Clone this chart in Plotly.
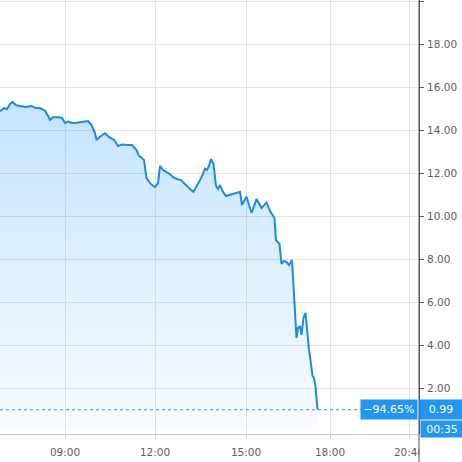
import plotly.graph_objects as go

# Bar index (session-compressed time axis, like TradingView) and close prices
bars = [0, 8, 14, 20, 25, 32, 40, 52, 63, 72, 80, 90, 97, 100, 106, 116, 124, 130, 136, 144,
        154, 164, 176, 183, 190, 193, 200, 210, 220, 226, 230, 236, 244, 256, 264, 273, 278, 282, 288, 293,
        300, 306, 310, 316, 320, 326, 332, 340, 346, 354, 362, 370, 377, 382, 387, 394, 400, 406, 410, 414,
        418, 422, 427, 432, 436, 440, 446, 452, 460, 470, 480, 484, 493, 503, 513, 523, 533, 540, 549, 552,
        559, 563, 568, 573, 578, 584, 587, 590, 593, 596, 600, 603, 607, 611, 615, 618, 621, 625, 628, 631, 635]
prices = [14.88, 15.02, 14.98, 15.21, 15.30, 15.16, 15.12, 15.07, 15.12, 15.02, 15.02, 14.90, 14.62, 14.47, 14.60, 14.60, 14.56, 14.33, 14.39, 14.33,
          14.34, 14.37, 14.42, 14.23, 13.86, 13.53, 13.69, 13.85, 13.63, 13.58, 13.49, 13.26, 13.33, 13.30, 13.30, 13.07, 12.79, 12.74, 12.60, 11.77,
          11.53, 11.40, 11.35, 11.52, 12.33, 12.14, 12.05, 11.95, 11.81, 11.72, 11.67, 11.49, 11.29, 11.21, 11.13, 11.40, 11.67, 11.95, 12.21, 12.14,
          12.33, 12.65, 12.42, 11.40, 11.26, 11.44, 11.12, 10.93, 10.98, 11.07, 11.13, 10.51, 10.90, 10.14, 10.79, 10.37, 10.63, 10.23, 9.91, 8.88,
          8.70, 7.77, 7.91, 7.86, 7.72, 7.95, 6.56, 5.16, 4.33, 4.79, 4.88, 4.47, 5.26, 5.49, 4.39, 3.77, 3.30, 2.56, 2.47, 2.05, 0.99]

x_tick_bars = [130, 310, 492, 660, 818]
x_tick_labels = ["09:00", "12:00", "15:00", "18:00", "20:40"]
y_tick_values = [2, 4, 6, 8, 10, 12, 14, 16, 18, 20]
y_tick_labels = ["2.00", "4.00", "6.00", "8.00", "10.00", "12.00", "14.00", "16.00", "18.00", ""]

last_price = 0.99
change_text = "\u221294.65%"
time_left = "00:35"

BLUE = "#2196F3"
LINE = "#1c8ae0"
GRID = "#e3e6ea"
FONT = "DejaVu Sans"

fig = go.Figure()
fig.add_trace(go.Scatter(
    x=bars, y=prices, mode="lines",
    line=dict(color=LINE, width=2),
    fill="tozeroy",
    fillgradient=dict(type="vertical",
                      colorscale=[[0, "rgba(33,150,243,0.03)"], [1, "rgba(33,150,243,0.26)"]],
                      start=0, stop=15.3),
    hoverinfo="skip", showlegend=False,
))

fig.update_layout(
    width=462, height=462,
    margin=dict(l=0, r=43, t=0, b=28),
    paper_bgcolor="white", plot_bgcolor="white",
    font=dict(family=FONT, size=10.5, color="#5d5d5d"),
    xaxis=dict(range=[0, 838], tickvals=x_tick_bars, ticktext=x_tick_labels,
               showgrid=True, gridcolor=GRID, gridwidth=1, zeroline=False,
               showline=True, linecolor="#c8c8c8", linewidth=1,
               ticks="outside", ticklen=4, tickcolor="#c8c8c8", ticklabelstandoff=4,
               tickfont=dict(family=FONT, size=10.5, color="#5d5d5d")),
    yaxis=dict(range=[-0.14, 20.05], side="right", tickvals=y_tick_values, ticktext=y_tick_labels,
               showgrid=True, gridcolor=GRID, gridwidth=1, zeroline=False,
               showline=True, linecolor="#555", linewidth=1,
               ticks="outside", ticklen=4, tickcolor="#555", ticklabelstandoff=1,
               tickfont=dict(family=FONT, size=10.5, color="#5d5d5d")),
)

# dotted last-price line
fig.add_shape(type="line", xref="paper", yref="y", x0=0, x1=1, y0=last_price, y1=last_price,
              line=dict(color=BLUE, width=1, dash="dot"))
# cover clipped time label area right of price axis
fig.add_shape(type="rect", xref="paper", yref="paper", x0=1.001, x1=1.2, y0=-0.07, y1=0,
              fillcolor="white", line=dict(width=0), layer="above")
# price axis line continues to bottom
fig.add_shape(type="line", xref="paper", yref="paper", x0=1, x1=1, y0=-0.07, y1=1,
              line=dict(color="#555", width=1), layer="above")

fig.add_annotation(xref="paper", yref="y", x=1, y=last_price, xanchor="right", yanchor="middle",
                   xshift=-1, text=change_text, showarrow=False, bgcolor=BLUE,
                   width=54, height=17, borderpad=1,
                   font=dict(family=FONT, size=11, color="white"))
fig.add_annotation(xref="paper", yref="y", x=1, y=last_price, xanchor="left", yanchor="middle",
                   xshift=0, text=f"{last_price:.2f}", showarrow=False,
                   bgcolor=BLUE, width=40, height=17, borderpad=1,
                   font=dict(family=FONT, size=11, color="white"))
fig.add_annotation(xref="paper", yref="paper", x=1, y=0.012, xanchor="left", yanchor="middle",
                   xshift=1, text=time_left, showarrow=False, bgcolor=BLUE,
                   width=40, height=14, borderpad=1,
                   font=dict(family=FONT, size=11, color="white"))

fig.write_html("out.html", config={"displayModeBar": False},
               post_script="document.body.style.margin='0';")
